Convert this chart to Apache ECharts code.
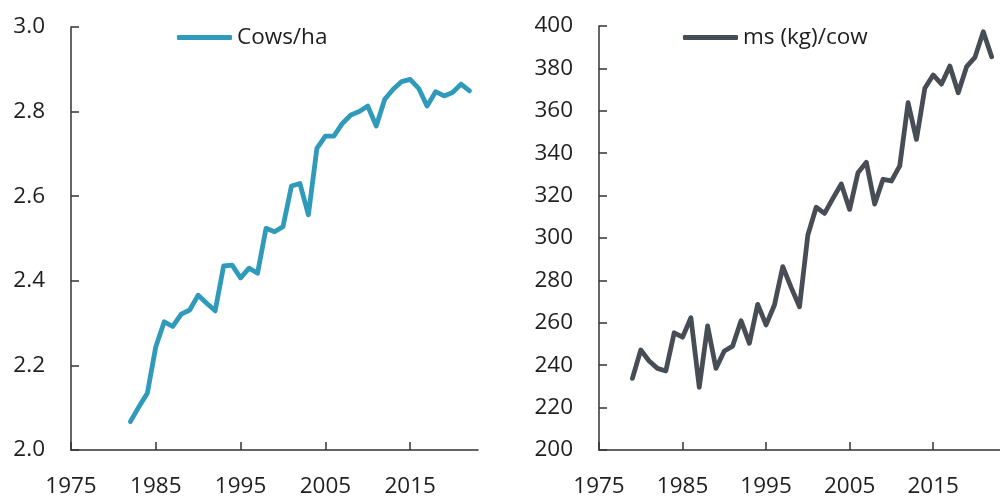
<!DOCTYPE html>
<html>
<head>
<meta charset="utf-8">
<script src="https://cdn.jsdelivr.net/npm/echarts@6/dist/echarts.min.js"></script>
<style>
html,body{margin:0;padding:0;background:#fff;}
#chart{width:1000px;height:498px;}
</style>
</head>
<body>
<div id="chart"></div>
<script>
const cowsYears = [1982,1983,1984,1985,1986,1987,1988,1989,1990,1991,1992,1993,1994,1995,1996,1997,1998,1999,2000,2001,2002,2003,2004,2005,2006,2007,2008,2009,2010,2011,2012,2013,2014,2015,2016,2017,2018,2019,2020,2021,2022];
const cowsPerHa = [2.067,2.102,2.134,2.244,2.303,2.292,2.321,2.331,2.366,2.347,2.329,2.435,2.437,2.407,2.430,2.418,2.524,2.516,2.528,2.624,2.630,2.556,2.713,2.742,2.742,2.772,2.792,2.800,2.813,2.766,2.829,2.853,2.871,2.876,2.855,2.813,2.847,2.837,2.845,2.865,2.849];

const msYears = [1979,1980,1981,1982,1983,1984,1985,1986,1987,1988,1989,1990,1991,1992,1993,1994,1995,1996,1997,1998,1999,2000,2001,2002,2003,2004,2005,2006,2007,2008,2009,2010,2011,2012,2013,2014,2015,2016,2017,2018,2019,2020,2021,2022];
const msPerCow = [233.8,247.2,242.0,238.5,237.3,255.3,253.2,262.4,229.6,258.5,238.5,246.7,249.0,261.0,250.3,268.7,259.0,268.4,286.5,276.7,267.6,301.4,314.5,311.6,318.7,325.5,313.5,330.8,335.7,316.0,327.7,326.9,334.0,363.8,346.5,370.6,376.9,372.6,381.1,368.5,380.8,385.2,397.3,385.5];

const xTickYears = [1975,1985,1995,2005,2015];
const seriesNames = ['Cows/ha','ms (kg)/cow'];
const seriesColors = ['#2f9ab9','#474d55'];

const FONT = '"Open Sans", sans-serif';
const FS = 22.5;
const TXT = '#1e1e1e';
const AX = '#333333';

function zip(xs, ys){ return xs.map((x,i)=>[x, ys[i]]); }

function xAxisCfg(gridIndex){
  return {
    gridIndex, type:'value', min:1975, max:2023,
    axisLine:{show:true, onZero:false, lineStyle:{color:AX, width:1.5}},
    axisTick:{show:true, inside:true, length:8, customValues:xTickYears, lineStyle:{color:AX, width:1.5}},
    axisLabel:{show:true, customValues:xTickYears, margin:25, fontSize:FS, fontFamily:FONT, color:TXT,
               formatter:v=>String(v)},
    splitLine:{show:false}
  };
}
function yAxisCfg(gridIndex, min, max, interval, fmt){
  return {
    gridIndex, type:'value', min, max, interval,
    axisLine:{show:true, onZero:false, lineStyle:{color:AX, width:1.5}},
    axisTick:{show:true, inside:true, length:8, lineStyle:{color:AX, width:1.5}},
    axisLabel:{show:true, margin:26, fontSize:FS, fontFamily:FONT, color:TXT, formatter:fmt},
    splitLine:{show:false}
  };
}

const chart = echarts.init(document.getElementById('chart'), null, {renderer:'canvas'});
chart.setOption({
  animation:false,
  backgroundColor:'#ffffff',
  textStyle:{fontFamily:FONT},
  legend:[
    {data:[seriesNames[0]], left:177, top:26, padding:0, itemWidth:55, itemHeight:5, icon:'roundRect',
     textStyle:{fontSize:FS, fontFamily:FONT, color:TXT}},
    {data:[seriesNames[1]], left:683, top:26, padding:0, itemWidth:55, itemHeight:5, icon:'roundRect',
     textStyle:{fontSize:FS, fontFamily:FONT, color:TXT}}
  ],
  grid:[
    {left:71, right:522, top:27, bottom:48, containLabel:false},
    {left:599, right:-7, top:26, bottom:48, containLabel:false}
  ],
  xAxis:[xAxisCfg(0), xAxisCfg(1)],
  yAxis:[
    yAxisCfg(0, 2.0, 3.0, 0.2, v=>v.toFixed(1)),
    yAxisCfg(1, 200, 400, 20, v=>String(v))
  ],
  series:[
    {name:seriesNames[0], type:'line', xAxisIndex:0, yAxisIndex:0, data:zip(cowsYears,cowsPerHa),
     showSymbol:false, symbol:'none', color:seriesColors[0],
     lineStyle:{width:4.8, color:seriesColors[0], join:'round', cap:'round'}},
    {name:seriesNames[1], type:'line', xAxisIndex:1, yAxisIndex:1, data:zip(msYears,msPerCow),
     showSymbol:false, symbol:'none', color:seriesColors[1],
     lineStyle:{width:4.8, color:seriesColors[1], join:'round', cap:'round'}}
  ]
});
</script>
</body>
</html>
